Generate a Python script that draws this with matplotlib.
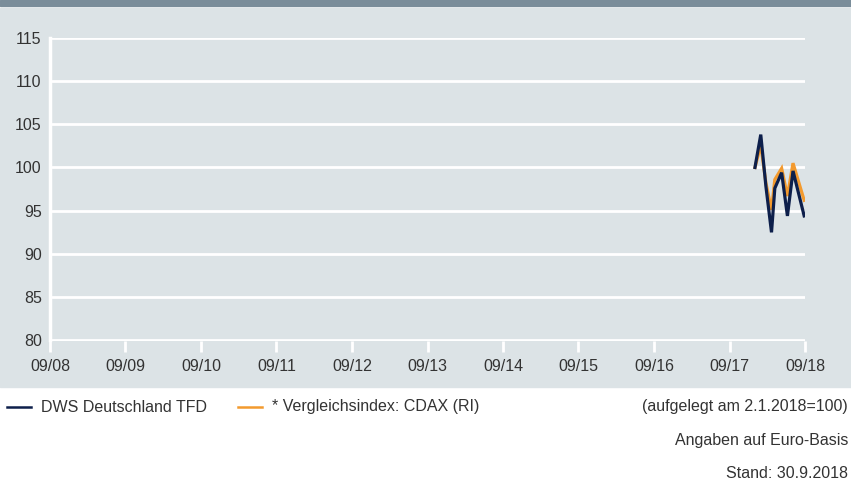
import matplotlib.pyplot as plt
import pandas as pd
from matplotlib.patches import Rectangle

# data (indexed, 2.1.2018 = 100)
dates = ['2018-01-02', '2018-01-30', '2018-02-24', '2018-03-23', '2018-04-08',
         '2018-05-11', '2018-06-08', '2018-07-05', '2018-08-28']
fund = [100.0, 103.8, 97.8, 92.5, 97.6, 99.4, 94.4, 99.6, 94.4]
index = [100.0, 102.6, 98.2, 95.1, 98.6, 99.9, 96.7, 100.5, 96.2]

tick_years = list(range(2008, 2019))
tick_labels = ['09/%02d' % (y % 100) for y in tick_years]
yticks = [80, 85, 90, 95, 100, 105, 110, 115]

navy = '#0d1f4b'
orange = '#f39a2e'
panel = '#dce3e6'
txt = '#333333'
fs = 11.5

plt.rcParams['font.family'] = ['Liberation Sans', 'DejaVu Sans']

W, H = 851, 482
fig = plt.figure(figsize=(W / 100, H / 100), dpi=100)

# top bar and grey panel
fig.patches.append(Rectangle((0, 1 - 6 / H), 1, 6 / H, transform=fig.transFigure,
                             color='#7a8d9a', zorder=-5))
fig.patches.append(Rectangle((0, 1 - 387 / H), 1, (387 - 8) / H, transform=fig.transFigure,
                             color=panel, zorder=-5))

ax = fig.add_axes([50 / W, 1 - 340.5 / H, 755 / W, (340.5 - 37.7) / H])
ax.set_facecolor(panel)

x = pd.to_datetime(dates)
ax.plot(x, index, color=orange, lw=2.3, zorder=3, solid_joinstyle='miter')
ax.plot(x, fund, color=navy, lw=2.3, zorder=4, solid_joinstyle='miter')

ax.set_ylim(80, 115)
ax.set_xlim(pd.Timestamp('2008-09-01'), pd.Timestamp('2018-09-01'))
ax.set_yticks(yticks)
ax.set_xticks(pd.to_datetime(['%d-09-01' % y for y in tick_years]))
ax.set_xticklabels(tick_labels)
ax.yaxis.grid(True, color='white', lw=2)
ax.set_axisbelow(True)

for s in ['top', 'right', 'bottom']:
    ax.spines[s].set_visible(False)
ax.spines['left'].set_color('white')
ax.spines['left'].set_linewidth(2.5)

ax.tick_params(axis='y', length=0, pad=6, labelsize=fs, labelcolor=txt)
ax.tick_params(axis='x', direction='out', length=8, width=2, color='white',
               pad=5, labelsize=fs, labelcolor=txt)
for lab in ax.get_yticklabels():
    lab.set_verticalalignment('center_baseline')

# legend row and notes
fig.add_artist(plt.Line2D([7 / W, 31 / W], [1 - 407 / H] * 2, color=navy, lw=1.8))
fig.text(41 / W, 1 - 407 / H, 'DWS Deutschland TFD', fontsize=fs, color=txt, va='center')
fig.add_artist(plt.Line2D([238 / W, 262 / W], [1 - 407 / H] * 2, color=orange, lw=1.8))
fig.text(272 / W, 1 - 407 / H, '* Vergleichsindex: CDAX (RI)', fontsize=fs, color=txt, va='center')

fig.text(848 / W, 1 - 407 / H, '(aufgelegt am 2.1.2018=100)', fontsize=fs, color=txt,
         va='center', ha='right')
fig.text(848 / W, 1 - 441 / H, 'Angaben auf Euro-Basis', fontsize=fs, color=txt,
         va='center', ha='right')
fig.text(848 / W, 1 - 473 / H, 'Stand: 30.9.2018', fontsize=fs, color=txt,
         va='center', ha='right')

fig.savefig('out.png', dpi=100)
